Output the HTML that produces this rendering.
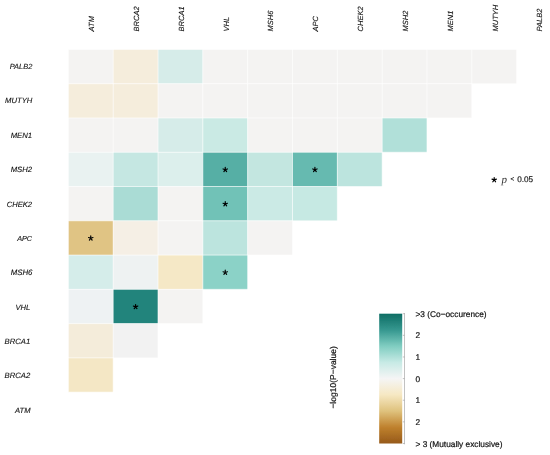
<!DOCTYPE html>
<html><head><meta charset="utf-8"><style>
html,body{margin:0;padding:0;background:#fff;width:550px;height:455px;overflow:hidden}
svg{display:block}
text{font-family:"Liberation Sans",sans-serif;fill:#111;stroke:#111;stroke-width:0.15px;text-rendering:geometricPrecision}
.lab{font-style:italic;font-size:7.3px;stroke-width:0.12px}
.leg{font-size:8.3px;stroke-width:0.2px}
</style></head><body>
<svg width="550" height="455" viewBox="0 0 550 455">
<defs><filter id="soft" filterUnits="userSpaceOnUse" x="0" y="0" width="550" height="455"><feGaussianBlur stdDeviation="0.35"/></filter></defs>
<rect width="550" height="455" fill="#fff"/>
<g filter="url(#soft)">

<rect x="68.35" y="49.45" width="44.83" height="34.27" fill="#f4f3f2"/>
<rect x="113.18" y="49.45" width="44.83" height="34.27" fill="#f5eddc"/>
<rect x="158.01" y="49.45" width="44.83" height="34.27" fill="#d6ece9"/>
<rect x="202.84" y="49.45" width="44.83" height="34.27" fill="#f4f3f2"/>
<rect x="247.67" y="49.45" width="44.83" height="34.27" fill="#f4f3f2"/>
<rect x="292.50" y="49.45" width="44.83" height="34.27" fill="#f4f3f2"/>
<rect x="337.33" y="49.45" width="44.83" height="34.27" fill="#f4f3f2"/>
<rect x="382.16" y="49.45" width="44.83" height="34.27" fill="#f4f3f2"/>
<rect x="426.99" y="49.45" width="44.83" height="34.27" fill="#f4f3f2"/>
<rect x="471.82" y="49.45" width="44.83" height="34.27" fill="#f4f3f2"/>
<rect x="68.35" y="83.72" width="44.83" height="34.27" fill="#f5eddc"/>
<rect x="113.18" y="83.72" width="44.83" height="34.27" fill="#f5eddc"/>
<rect x="158.01" y="83.72" width="44.83" height="34.27" fill="#f4f3f2"/>
<rect x="202.84" y="83.72" width="44.83" height="34.27" fill="#f4f3f2"/>
<rect x="247.67" y="83.72" width="44.83" height="34.27" fill="#f4f3f2"/>
<rect x="292.50" y="83.72" width="44.83" height="34.27" fill="#f4f3f2"/>
<rect x="337.33" y="83.72" width="44.83" height="34.27" fill="#f4f3f2"/>
<rect x="382.16" y="83.72" width="44.83" height="34.27" fill="#f4f3f2"/>
<rect x="426.99" y="83.72" width="44.83" height="34.27" fill="#f4f3f2"/>
<rect x="68.35" y="117.99" width="44.83" height="34.27" fill="#f4f3f2"/>
<rect x="113.18" y="117.99" width="44.83" height="34.27" fill="#f4f3f2"/>
<rect x="158.01" y="117.99" width="44.83" height="34.27" fill="#d6ece9"/>
<rect x="202.84" y="117.99" width="44.83" height="34.27" fill="#caeae4"/>
<rect x="247.67" y="117.99" width="44.83" height="34.27" fill="#f4f3f2"/>
<rect x="292.50" y="117.99" width="44.83" height="34.27" fill="#f4f3f2"/>
<rect x="337.33" y="117.99" width="44.83" height="34.27" fill="#f4f3f2"/>
<rect x="382.16" y="117.99" width="44.83" height="34.27" fill="#b1e0d9"/>
<rect x="68.35" y="152.26" width="44.83" height="34.27" fill="#e9f2f1"/>
<rect x="113.18" y="152.26" width="44.83" height="34.27" fill="#c5e7e2"/>
<rect x="158.01" y="152.26" width="44.83" height="34.27" fill="#dcefec"/>
<rect x="202.84" y="152.26" width="44.83" height="34.27" fill="#56afa5"/>
<rect x="247.67" y="152.26" width="44.83" height="34.27" fill="#c3e6e0"/>
<rect x="292.50" y="152.26" width="44.83" height="34.27" fill="#66bab0"/>
<rect x="337.33" y="152.26" width="44.83" height="34.27" fill="#bce4de"/>
<rect x="68.35" y="186.53" width="44.83" height="34.27" fill="#f4f3f2"/>
<rect x="113.18" y="186.53" width="44.83" height="34.27" fill="#aadcd5"/>
<rect x="158.01" y="186.53" width="44.83" height="34.27" fill="#f4f3f2"/>
<rect x="202.84" y="186.53" width="44.83" height="34.27" fill="#71c2b7"/>
<rect x="247.67" y="186.53" width="44.83" height="34.27" fill="#cbeae5"/>
<rect x="292.50" y="186.53" width="44.83" height="34.27" fill="#c6e9e3"/>
<rect x="68.35" y="220.80" width="44.83" height="34.27" fill="#e0c484"/>
<rect x="113.18" y="220.80" width="44.83" height="34.27" fill="#f5efe5"/>
<rect x="158.01" y="220.80" width="44.83" height="34.27" fill="#f4f3f2"/>
<rect x="202.84" y="220.80" width="44.83" height="34.27" fill="#bce4de"/>
<rect x="247.67" y="220.80" width="44.83" height="34.27" fill="#f4f3f2"/>
<rect x="68.35" y="255.07" width="44.83" height="34.27" fill="#d5edea"/>
<rect x="113.18" y="255.07" width="44.83" height="34.27" fill="#eef2f2"/>
<rect x="158.01" y="255.07" width="44.83" height="34.27" fill="#f5e8c6"/>
<rect x="202.84" y="255.07" width="44.83" height="34.27" fill="#8bd2c7"/>
<rect x="68.35" y="289.34" width="44.83" height="34.27" fill="#eef2f3"/>
<rect x="113.18" y="289.34" width="44.83" height="34.27" fill="#23847c"/>
<rect x="158.01" y="289.34" width="44.83" height="34.27" fill="#f4f3f2"/>
<rect x="68.35" y="323.61" width="44.83" height="34.27" fill="#f4ecda"/>
<rect x="113.18" y="323.61" width="44.83" height="34.27" fill="#f2f2f2"/>
<rect x="68.35" y="357.88" width="44.83" height="34.27" fill="#f4e7c5"/>
<path d="M68.35,49.45V392.15M113.18,49.45V392.15M158.01,49.45V392.15M202.84,49.45V392.15M247.67,49.45V392.15M292.50,49.45V392.15M337.33,49.45V392.15M382.16,49.45V392.15M426.99,49.45V392.15M471.82,49.45V392.15M516.65,49.45V392.15M68.35,49.45H516.65M68.35,83.72H516.65M68.35,117.99H516.65M68.35,152.26H516.65M68.35,186.53H516.65M68.35,220.80H516.65M68.35,255.07H516.65M68.35,289.34H516.65M68.35,323.61H516.65M68.35,357.88H516.65M68.35,392.15H516.65" stroke="#fff" stroke-width="0.6" fill="none"/>
<path d="M225.25,169.70L225.25,167.40M225.25,169.70L227.44,168.98M225.25,169.70L226.61,171.56M225.25,169.70L223.90,171.56M225.25,169.70L223.07,168.98" stroke="#000" stroke-width="1.2" stroke-linecap="round" fill="none"/>
<path d="M314.91,169.70L314.91,167.40M314.91,169.70L317.10,168.98M314.91,169.70L316.27,171.56M314.91,169.70L313.56,171.56M314.91,169.70L312.73,168.98" stroke="#000" stroke-width="1.2" stroke-linecap="round" fill="none"/>
<path d="M225.25,203.97L225.25,201.67M225.25,203.97L227.44,203.25M225.25,203.97L226.61,205.83M225.25,203.97L223.90,205.83M225.25,203.97L223.07,203.25" stroke="#000" stroke-width="1.2" stroke-linecap="round" fill="none"/>
<path d="M90.76,238.24L90.76,235.94M90.76,238.24L92.95,237.52M90.76,238.24L92.12,240.10M90.76,238.24L89.41,240.10M90.76,238.24L88.58,237.52" stroke="#000" stroke-width="1.2" stroke-linecap="round" fill="none"/>
<path d="M225.25,272.51L225.25,270.21M225.25,272.51L227.44,271.79M225.25,272.51L226.61,274.37M225.25,272.51L223.90,274.37M225.25,272.51L223.07,271.79" stroke="#000" stroke-width="1.2" stroke-linecap="round" fill="none"/>
<path d="M135.59,306.78L135.59,304.48M135.59,306.78L137.78,306.06M135.59,306.78L136.95,308.64M135.59,306.78L134.24,308.64M135.59,306.78L133.41,306.06" stroke="#000" stroke-width="1.2" stroke-linecap="round" fill="none"/>
<text class="lab" x="32.3" y="69.05" text-anchor="end" style="font-size:7.45px">PALB2</text>
<text class="lab" x="32.4" y="103.42" text-anchor="end" style="font-size:7.7px">MUTYH</text>
<text class="lab" x="32.0" y="137.78" text-anchor="end" style="font-size:7.7px">MEN1</text>
<text class="lab" x="32.0" y="172.15" text-anchor="end" style="font-size:7.7px">MSH2</text>
<text class="lab" x="32.0" y="206.51" text-anchor="end" style="font-size:7.6px">CHEK2</text>
<text class="lab" x="32.0" y="240.88" text-anchor="end" style="font-size:7.2px">APC</text>
<text class="lab" x="32.4" y="275.24" text-anchor="end" style="font-size:7.8px">MSH6</text>
<text class="lab" x="30.2" y="309.61" text-anchor="end" style="font-size:7.55px">VHL</text>
<text class="lab" x="30.2" y="343.97" text-anchor="end" style="font-size:7.7px">BRCA1</text>
<text class="lab" x="30.2" y="378.34" text-anchor="end" style="font-size:7.7px">BRCA2</text>
<text class="lab" x="30.5" y="412.70" text-anchor="end" style="font-size:7.6px">ATM</text>
<text class="lab" transform="translate(94.06,31.4) rotate(-90) scale(0.1)" x="0" y="0" style="font-size:75px;stroke-width:1.2px">ATM</text>
<text class="lab" transform="translate(138.89,31.4) rotate(-90) scale(0.1)" x="0" y="0" style="font-size:75px;stroke-width:1.2px">BRCA2</text>
<text class="lab" transform="translate(183.72,31.4) rotate(-90) scale(0.1)" x="0" y="0" style="font-size:75px;stroke-width:1.2px">BRCA1</text>
<text class="lab" transform="translate(228.55,31.4) rotate(-90) scale(0.1)" x="0" y="0" style="font-size:75px;stroke-width:1.2px">VHL</text>
<text class="lab" transform="translate(273.38,31.4) rotate(-90) scale(0.1)" x="0" y="0" style="font-size:75px;stroke-width:1.2px">MSH6</text>
<text class="lab" transform="translate(318.21,31.4) rotate(-90) scale(0.1)" x="0" y="0" style="font-size:75px;stroke-width:1.2px">APC</text>
<text class="lab" transform="translate(363.05,31.4) rotate(-90) scale(0.1)" x="0" y="0" style="font-size:75px;stroke-width:1.2px">CHEK2</text>
<text class="lab" transform="translate(407.87,31.4) rotate(-90) scale(0.1)" x="0" y="0" style="font-size:75px;stroke-width:1.2px">MSH2</text>
<text class="lab" transform="translate(452.70,31.4) rotate(-90) scale(0.1)" x="0" y="0" style="font-size:75px;stroke-width:1.2px">MEN1</text>
<text class="lab" transform="translate(497.54,31.4) rotate(-90) scale(0.1)" x="0" y="0" style="font-size:75px;stroke-width:1.2px">MUTYH</text>
<text class="lab" transform="translate(542.37,31.4) rotate(-90) scale(0.1)" x="0" y="0" style="font-size:75px;stroke-width:1.2px">PALB2</text>
<path d="M494.20,179.90L494.20,177.60M494.20,179.90L496.39,179.19M494.20,179.90L495.55,181.76M494.20,179.90L492.85,181.76M494.20,179.90L492.01,179.19" stroke="#000" stroke-width="1.2" stroke-linecap="round" fill="none"/>
<text x="501.4" y="183.4" style="font-family:'Liberation Serif',serif;font-style:italic;font-size:11px;fill:#333;stroke:none">p</text>
<text x="510.6" y="181.2" style="font-size:6.4px">&lt;</text>
<text x="517.2" y="182" style="font-size:8.2px">0.05</text>
<defs><linearGradient id="bb" x1="0" y1="0" x2="0" y2="1">
<stop offset="0" stop-color="#0f6d64"/><stop offset="0.125" stop-color="#35978f"/>
<stop offset="0.25" stop-color="#80cdc1"/><stop offset="0.375" stop-color="#c7eae5"/>
<stop offset="0.5" stop-color="#f5f5f5"/><stop offset="0.625" stop-color="#f6e8c3"/>
<stop offset="0.75" stop-color="#dfc27d"/><stop offset="0.875" stop-color="#bf812d"/>
<stop offset="1" stop-color="#96591a"/></linearGradient></defs>
<rect x="379.2" y="313.7" width="23" height="129.8" fill="url(#bb)"/>
<path d="M404.5,313V444.3" stroke="#999" stroke-width="0.6" fill="none"/>
<text class="leg" x="415.5" y="316.70">&gt;3 (Co−occurence)</text>
<text class="leg" x="415.5" y="338.33">2</text>
<text class="leg" x="415.5" y="359.97">1</text>
<text class="leg" x="415.5" y="381.60">0</text>
<text class="leg" x="415.5" y="403.23">1</text>
<text class="leg" x="415.5" y="424.87">2</text>
<text class="leg" x="415.5" y="446.50">&gt; 3 (Mutually exclusive)</text>
<path d="M402.8,313.70H404.5M402.8,335.33H404.5M402.8,356.97H404.5M402.8,378.60H404.5M402.8,400.23H404.5M402.8,421.87H404.5M402.8,443.50H404.5" stroke="#999" stroke-width="0.6" fill="none"/>
<text class="leg" transform="translate(336.3,408.6) rotate(-90) scale(0.1)" x="0" y="0" style="font-size:85px;stroke-width:2px">−log10(P−value)</text>
</g></svg></body></html>
